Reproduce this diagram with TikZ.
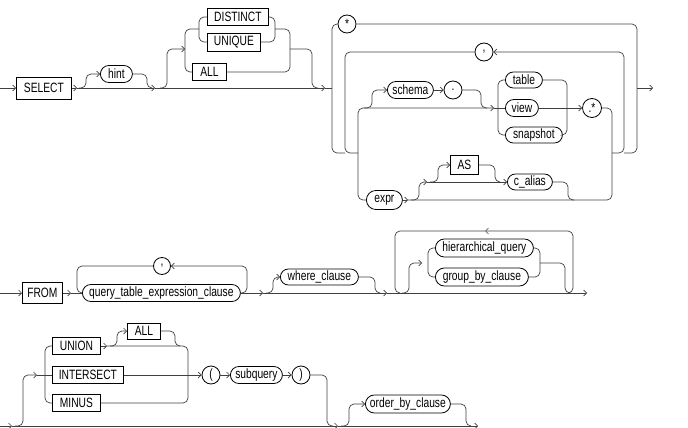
\documentclass[tikz,border=0pt]{standalone}
\usepackage{fontspec}
\setmainfont{Liberation Sans}[FakeStretch=0.76]
\usetikzlibrary{arrows.meta,shapes.misc}
\tikzset{
  kw/.style={draw=black, line width=0.8pt, rectangle, inner sep=0pt, minimum height=17pt, anchor=west},
  nt/.style={draw=black, line width=0.8pt, rounded rectangle, inner sep=0pt, minimum height=17pt, anchor=west},
  pu/.style={draw=black, line width=0.8pt, circle, inner sep=0pt, minimum size=18pt},
  rail/.style={draw=black!75, line width=0.7pt, rounded corners=5pt},
  ar/.style={-{Straight Barb[length=3pt,width=6pt]}},
}
\begin{document}
\begin{tikzpicture}[x=1pt,y=-1pt,font=\fontsize{13.5}{15}\selectfont]
\useasboundingbox (0,0) rectangle (688,428);
% ---------- row 1 nodes
\node[kw, minimum width=55pt, minimum height=22pt] (select) at (16,88) {SELECT};
\node[nt, minimum width=32pt] (hint) at (100,74) {hint};
\node[kw, minimum width=61pt] (distinct) at (207,17) {DISTINCT};
\node[kw, minimum width=53pt, minimum height=18pt] (unique) at (207,42) {UNIQUE};
\node[kw, minimum width=34pt] (all1) at (192,72) {ALL};
\node[pu] (star) at (347,24) {*};
\node[pu] (comma1) at (484,52) {,};
\node[nt, minimum width=46pt] (schema) at (387,90) {schema};
\node[pu] (dot) at (453,90) {.};
\node[nt, minimum width=37pt, minimum height=16pt] (table) at (505,80) {table};
\node[nt, minimum width=33pt] (view) at (505,108) {view};
\node[nt, minimum width=57pt, minimum height=16pt] (snapshot) at (505,135) {snapshot};
\node[pu, minimum size=19pt] (dotstar) at (592,108) {.*};
\node[nt, minimum width=36pt, minimum height=19pt] (expr) at (366,200) {expr};
\node[kw, minimum width=28pt, minimum height=19pt] (as) at (450,165) {AS};
\node[nt, minimum width=45pt, minimum height=16pt] (calias) at (507,182) {c\_alias};
% ---------- row 1 rails
\draw[rail,ar] (0,88) -- (select.west);
\draw[rail,ar] (select.east) -- (77,88);
\draw[rail,ar] (77,88) -- (155,88);
\draw[rail,ar] (79,88) -| (86,74) -- (hint.west);
\draw[rail] (hint.east) -| (147,88) -- (152,88);
\draw[rail,ar] (155,88) -- (325,88);
\draw[rail] (325,88) -- (332,88);
\draw[rail,ar] (160,88) -| (167,49) -- (185,49);
\draw[rail] (distinct.west) -| (199,42) -- (unique.west);
\draw[rail] (199,29) -| (185,72) -- (all1.west);
\draw[rail] (distinct.east) -| (275,42) -- (unique.east);
\draw[rail] (275,29) -| (290,72) -- (all1.east);
\draw[rail] (290,49) -| (312,88) -- (318,88);
% select list
\draw[rail] (star.west) -| (332,153) -- (345,153);
\draw[rail] (comma1.west) -| (345,153) -- (358,153);
\draw[rail] (star.east) -| (637,153) -- (624,153);
\draw[rail,ar] (612,153) -| (624,52) -- (comma1.east);
\draw[rail,ar] (expr.west) -| (358,108) -- (494,108);
\draw[rail] (494,108) -- (view.west);
\draw[rail,ar] (364,108) -| (372,90) -- (schema.west);
\draw[rail,ar] (schema.east) -- (dot.west);
\draw[rail] (dot.east) -| (481,108) -- (487,108);
\draw[rail] (table.west) -| (498,135) -- (snapshot.west);
\draw[rail] (table.east) -| (567,135) -- (snapshot.east);
\draw[rail,ar] (view.east) -- (dotstar.west);
\draw[rail] (dotstar.east) -| (612,200) -- (408,200);
\draw[rail,ar] (expr.east) -- (408,200);
\draw[rail,ar] (411,200) -| (419,182) -- (427,182);
\draw[rail,ar] (427,182) -- (calias.west);
\draw[rail,ar] (430,182) -| (438,165) -- (as.west);
\draw[rail] (as.east) -| (495,182) -- (500,182);
\draw[rail] (calias.east) -| (568,200) -- (574,200);
\draw[rail,ar] (637,88) -- (653,88);
% ---------- row 2 nodes
\node[kw, minimum width=40pt, minimum height=21pt] (from) at (22,293) {FROM};
\node[nt, minimum width=158pt] (qtec) at (82,293) {query\_table\_expression\_clause};
\node[pu, minimum size=17pt] (comma2) at (162,266) {,};
\node[nt, minimum width=78pt, minimum height=16pt] (where) at (280,277) {where\_clause};
\node[nt, minimum width=98pt, minimum height=18pt] (hq) at (435,248) {hierarchical\_query};
\node[nt, minimum width=93pt, minimum height=18pt] (gb) at (435,277) {group\_by\_clause};
% ---------- row 2 rails
\draw[rail,ar] (0,293) -- (from.west);
\draw[rail,ar] (from.east) -- (71,293);
\draw[rail] (71,293) -- (qtec.west);
\draw[rail] (comma2.west) -| (77,293) -- (qtec.west);
\draw[rail,ar] (qtec.east) -| (247,266) -- (comma2.east);
\draw[rail,ar] (qtec.east) -- (263,293);
\draw[rail,ar] (266,293) -| (273,277) -- (where.west);
\draw[rail] (where.east) -| (375,293) -- (380,293);
\draw[rail,ar] (263,293) -- (387,293);
\draw[rail,ar] (568,293) -| (573,231) -- (485,231);
\draw[rail] (485,231) -| (395,293) -- (400,293);
\draw[rail,ar] (402,293) -| (409,263) -- (422,263);
\draw[rail] (hq.west) -| (428,277) -- (gb.west);
\draw[rail] (hq.east) -| (540,277) -- (gb.east);
\draw[rail] (540,263) -| (565,293) -- (571,293);
\draw[rail,ar] (387,293) -- (587,293);
% ---------- row 3 nodes
\node[kw, minimum width=48pt] (union) at (52,346) {UNION};
\node[kw, minimum width=71pt] (intersect) at (52,375) {INTERSECT};
\node[kw, minimum width=48pt] (minus) at (52,403) {MINUS};
\node[kw, minimum width=33pt, minimum height=16pt] (all2) at (127,331) {ALL};
\node[pu] (lp) at (211,375) {(};
\node[nt, minimum width=52pt] (subq) at (230,375) {subquery};
\node[pu] (rp) at (301,375) {)};
\node[nt, minimum width=85pt, minimum height=18pt] (oby) at (365,404) {order\_by\_clause};
% ---------- row 3 rails
\draw[rail,ar] (0,426) -- (12,426);
\draw[rail,ar] (12,426) -- (338,426);
\draw[rail,ar] (338,426) -- (478,426);
\draw[rail,ar] (15,426) -| (23,375) -- (37,375);
\draw[rail] (37,375) -- (intersect.west);
\draw[rail] (union.west) -| (45,403) -- (minus.west);
\draw[rail,ar] (union.east) -- (107,346);
\draw[rail,ar] (110,346) -| (117,331) -- (all2.west);
\draw[rail] (all2.east) -| (175,346) -- (180,346);
\draw[rail] (107,346) -| (188,403) -- (minus.east);
\draw[rail,ar] (intersect.east) -- (lp.west);
\draw[rail,ar] (lp.east) -- (subq.west);
\draw[rail,ar] (subq.east) -- (rp.west);
\draw[rail] (rp.east) -| (327,426) -- (333,426);
\draw[rail,ar] (341,426) -| (349,404) -- (oby.west);
\draw[rail] (oby.east) -| (466,426) -- (471,426);
\end{tikzpicture}
\end{document}
